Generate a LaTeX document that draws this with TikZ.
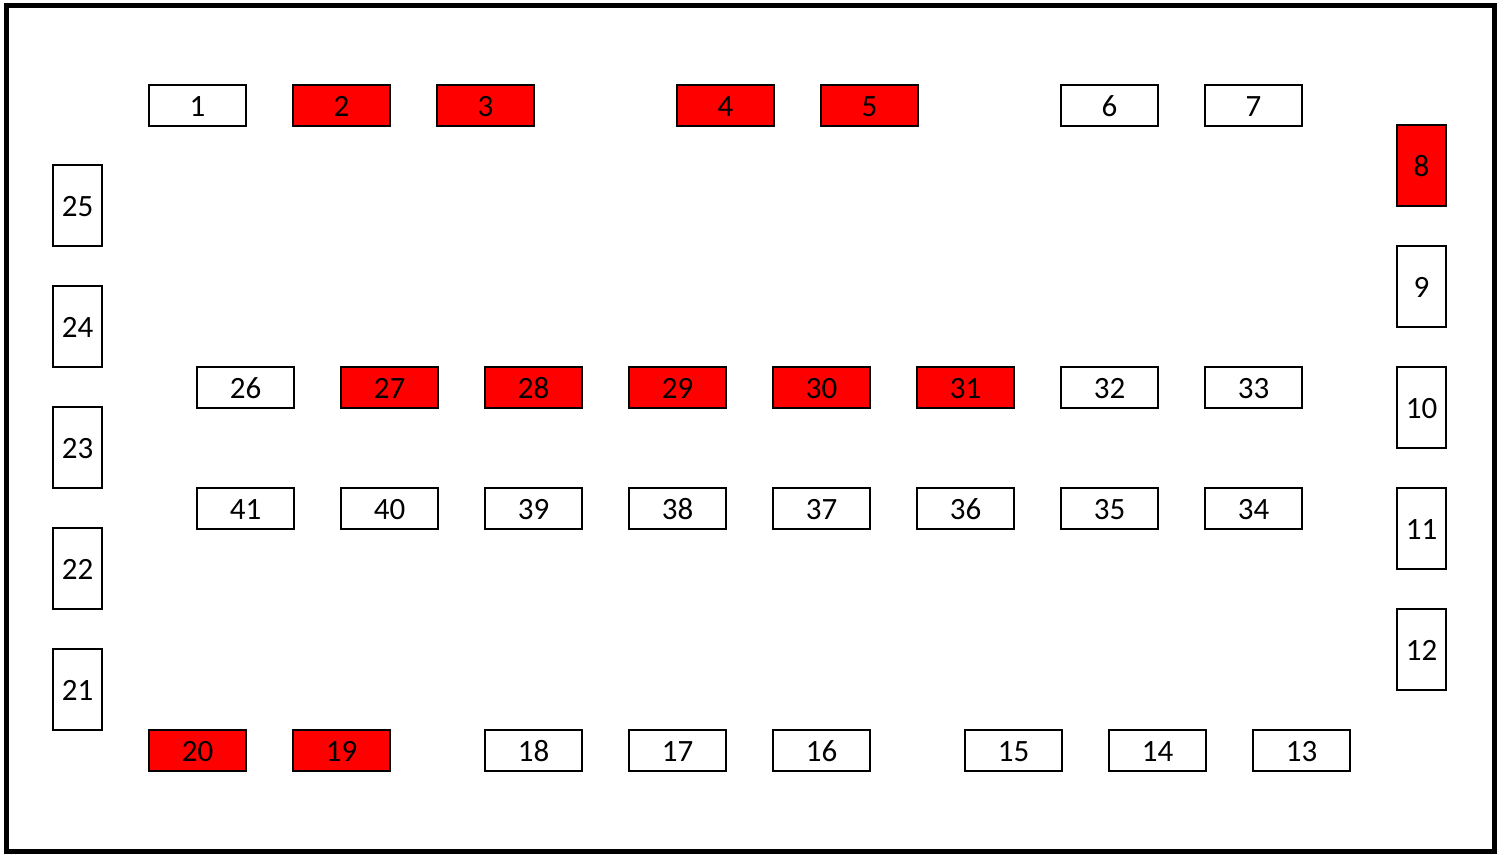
\documentclass[tikz,border=0pt]{standalone}
\usepackage{fontspec}
\setmainfont{Carlito}
\definecolor{fuse}{HTML}{FF0000}
\begin{document}
\begin{tikzpicture}[x=1pt,y=-1pt,
  hbox/.style={draw=black,line width=2pt,fill=white,minimum width=97pt,minimum height=41pt,inner sep=0pt,
    font=\fontsize{31}{31}\selectfont,text height=22pt,text depth=0pt},
  vbox/.style={hbox,minimum width=49pt,minimum height=81pt},
  hot/.style={fill=fuse}]
\useasboundingbox (0,0) rectangle (1504,854);
\draw[line width=5pt] (6.5,5.5) rectangle (1494,851.5);
% top row
\node[hbox] (n1) at (197.5,105) {1};
\node[hbox,hot] (n2) at (341.5,105) {2};
\node[hbox,hot] (n3) at (485.5,105) {3};
\node[hbox,hot] (n4) at (725.5,105) {4};
\node[hbox,hot] (n5) at (869.5,105) {5};
\node[hbox] (n6) at (1109.5,105) {6};
\node[hbox] (n7) at (1253.5,105) {7};
% right column
\node[vbox,hot] (n8) at (1421.5,165.5) {8};
\node[vbox] (n9) at (1421.5,286.5) {9};
\node[vbox] (n10) at (1421.5,407.5) {10};
\node[vbox] (n11) at (1421.5,528.5) {11};
\node[vbox] (n12) at (1421.5,649.5) {12};
% bottom row
\node[hbox] (n13) at (1301.5,750) {13};
\node[hbox] (n14) at (1157.5,750) {14};
\node[hbox] (n15) at (1013.5,750) {15};
\node[hbox] (n16) at (821.5,750) {16};
\node[hbox] (n17) at (677.5,750) {17};
\node[hbox] (n18) at (533.5,750) {18};
\node[hbox,hot] (n19) at (341.5,750) {19};
\node[hbox,hot] (n20) at (197.5,750) {20};
% left column
\node[vbox] (n21) at (77.5,689.5) {21};
\node[vbox] (n22) at (77.5,568.5) {22};
\node[vbox] (n23) at (77.5,447.5) {23};
\node[vbox] (n24) at (77.5,326.5) {24};
\node[vbox] (n25) at (77.5,205.5) {25};
% middle row 1
\node[hbox] (n26) at (245.5,387) {26};
\node[hbox,hot] (n27) at (389.5,387) {27};
\node[hbox,hot] (n28) at (533.5,387) {28};
\node[hbox,hot] (n29) at (677.5,387) {29};
\node[hbox,hot] (n30) at (821.5,387) {30};
\node[hbox,hot] (n31) at (965.5,387) {31};
\node[hbox] (n32) at (1109.5,387) {32};
\node[hbox] (n33) at (1253.5,387) {33};
% middle row 2
\node[hbox] (n34) at (1253.5,508) {34};
\node[hbox] (n35) at (1109.5,508) {35};
\node[hbox] (n36) at (965.5,508) {36};
\node[hbox] (n37) at (821.5,508) {37};
\node[hbox] (n38) at (677.5,508) {38};
\node[hbox] (n39) at (533.5,508) {39};
\node[hbox] (n40) at (389.5,508) {40};
\node[hbox] (n41) at (245.5,508) {41};
\end{tikzpicture}
\end{document}
